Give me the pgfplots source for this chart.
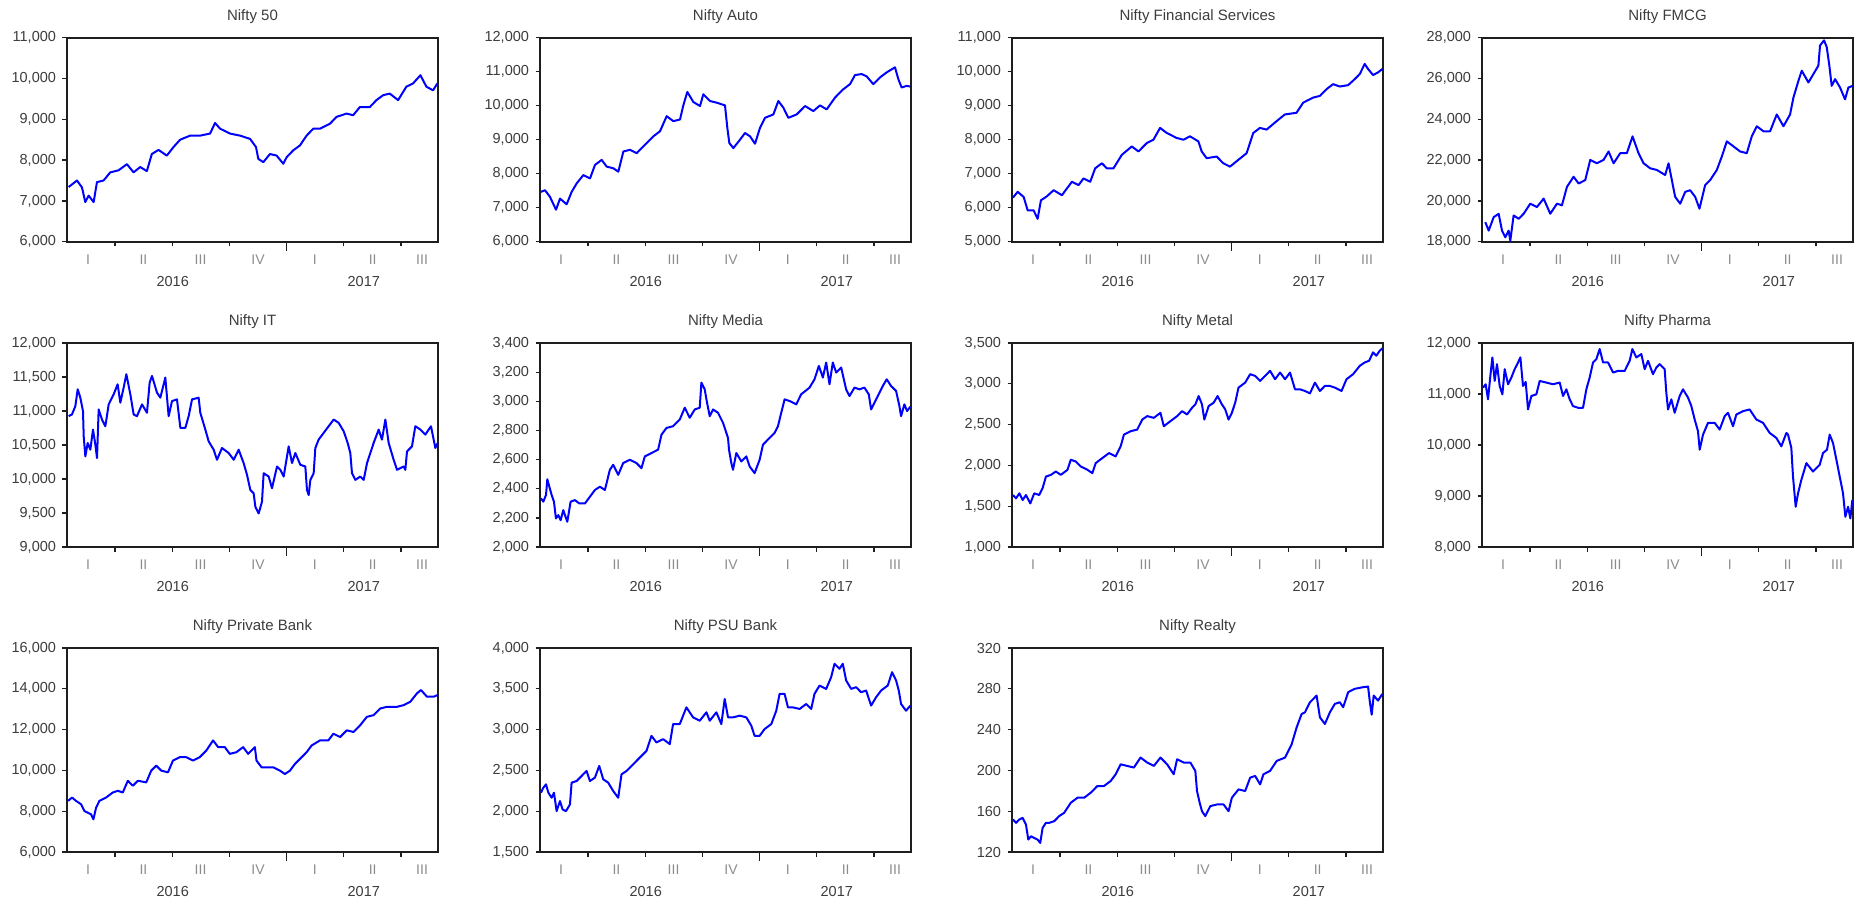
\documentclass[border=0pt]{standalone}
\usepackage{fontspec}
\setmainfont{Liberation Sans}
\usepackage{pgfplots}
\pgfplotsset{compat=1.18}
\definecolor{framecol}{HTML}{1E1E1E}
\definecolor{labcol}{HTML}{3C3C3C}
\definecolor{qcol}{HTML}{8C8C8C}

\newcommand\ticksize{\fontsize{14.5}{16}\selectfont}

\pgfplotsset{
  panel/.style={
    scale only axis, width=371pt, height=204pt,
    anchor=north west,
    xmin=0.16, xmax=6.65,
    xtick={1,2,3,5,6}, xticklabels={},
    extra x ticks={4}, extra x tick labels={},
    extra x tick style={major tick length=9pt},
    major tick length=4.5pt,
    tick align=outside, tick pos=left,
    axis line style={line width=1.7pt, framecol},
    every tick/.style={line width=1.3pt, framecol},
    scaled y ticks=false,
    /pgf/number format/fixed,
    /pgf/number format/1000 sep={,},
    /pgf/number format/assume math mode=true,
    yticklabel style={font=\ticksize, text=labcol, xshift=-3pt},
    title style={at={(0.5,1)}, anchor=center, yshift=15pt,
      font=\fontsize{15}{16}\selectfont, text=labcol},
    clip=false,
    no markers,
    every axis plot/.append style={color=blue, line width=2pt, line join=round},
    after end axis/.code={
      \foreach \p/\q in {0.057/I,0.206/II,0.36/III,0.515/IV,0.668/I,0.824/II,0.957/III}
        \node[font=\fontsize{14}{15}\selectfont, text=qcol] at ([yshift=-18pt]rel axis cs:\p,0) {\q};
      \node[font=\ticksize, text=labcol] at ([yshift=-39.5pt]rel axis cs:0.285,0) {2016};
      \node[font=\ticksize, text=labcol] at ([yshift=-39.5pt]rel axis cs:0.80,0) {2017};
    },
  }
}

\begin{document}
\begin{tikzpicture}
\path[use as bounding box] (0pt,0pt) rectangle (1854pt,-900pt);

% ---------------- row 1 ----------------
\begin{axis}[panel, at={(67pt,-37.7pt)}, title={Nifty 50},
  ymin=6000, ymax=11000, ytick={6000,7000,...,11000}]
\addplot coordinates {
(0.189,7340) (0.335,7500) (0.422,7330) (0.480,6970) (0.538,7130) (0.626,6970) (0.684,7460)
(0.800,7500) (0.917,7700) (1.062,7750) (1.208,7900) (1.324,7700) (1.441,7830) (1.557,7730)
(1.644,8150) (1.761,8250) (1.906,8110) (2.023,8320) (2.139,8500) (2.314,8600) (2.488,8600)
(2.663,8650) (2.750,8910) (2.838,8770) (3.012,8650) (3.187,8600) (3.362,8520) (3.466,8320)
(3.507,8030) (3.594,7950) (3.711,8150) (3.827,8110) (3.944,7910) (4.002,8070) (4.118,8240)
(4.235,8360) (4.351,8600) (4.468,8770) (4.584,8770) (4.759,8890) (4.875,9060) (5.050,9140)
(5.166,9100) (5.283,9300) (5.457,9300) (5.573,9470) (5.690,9590) (5.806,9630) (5.952,9470)
(6.097,9800) (6.214,9880) (6.342,10080) (6.447,9800) (6.563,9710) (6.639,9880)
};
\end{axis}

\begin{axis}[panel, at={(540pt,-37.7pt)}, title={Nifty Auto},
  ymin=6000, ymax=12000, ytick={6000,7000,...,12000}]
\addplot coordinates {
(0.177,7466) (0.247,7515) (0.335,7317) (0.440,6941) (0.510,7268) (0.626,7100) (0.714,7466)
(0.801,7713) (0.918,7960) (1.035,7862) (1.122,8258) (1.239,8406) (1.326,8208) (1.443,8159)
(1.530,8060) (1.618,8654) (1.734,8703) (1.851,8604) (1.968,8802) (2.143,9099) (2.259,9248)
(2.376,9693) (2.492,9545) (2.609,9594) (2.667,10010) (2.737,10406) (2.842,10109) (2.959,9990)
(3.017,10337) (3.134,10139) (3.250,10089) (3.396,10010) (3.437,9347) (3.472,8901) (3.542,8753)
(3.659,9000) (3.746,9198) (3.834,9099) (3.921,8881) (4.008,9347) (4.096,9644) (4.242,9743)
(4.329,10139) (4.417,9941) (4.504,9644) (4.650,9743) (4.796,9990) (4.941,9842) (5.058,10010)
(5.175,9891) (5.320,10238) (5.466,10485) (5.583,10634) (5.670,10901) (5.787,10931) (5.874,10862)
(5.991,10634) (6.108,10832) (6.224,10980) (6.370,11129) (6.428,10782) (6.486,10535) (6.574,10584)
(6.632,10564)
};
\end{axis}

\begin{axis}[panel, at={(1012pt,-37.7pt)}, title={Nifty Financial Services},
  ymin=5000, ymax=11000, ytick={5000,6000,...,11000}]
\addplot coordinates {
(0.177,6297) (0.259,6466) (0.364,6317) (0.434,5921) (0.538,5921) (0.608,5674) (0.666,6218)
(0.771,6337) (0.888,6515) (1.033,6367) (1.120,6565) (1.208,6763) (1.324,6664) (1.411,6862)
(1.528,6763) (1.615,7159) (1.732,7307) (1.819,7159) (1.935,7159) (2.081,7555) (2.256,7802)
(2.372,7654) (2.518,7901) (2.634,8000) (2.750,8347) (2.867,8198) (3.041,8050) (3.158,8000)
(3.274,8099) (3.420,7951) (3.478,7654) (3.565,7456) (3.740,7505) (3.856,7307) (3.973,7208)
(4.118,7406) (4.264,7604) (4.380,8198) (4.497,8347) (4.613,8297) (4.788,8545) (4.933,8743)
(5.137,8792) (5.253,9089) (5.428,9238) (5.544,9287) (5.661,9485) (5.777,9634) (5.894,9564)
(6.039,9604) (6.156,9782) (6.243,9931) (6.330,10228) (6.389,10079) (6.476,9901) (6.563,9980)
(6.639,10079)
};
\end{axis}

\begin{axis}[panel, at={(1482pt,-37.7pt)}, title={Nifty FMCG},
  ymin=18000, ymax=28000, ytick={18000,20000,...,28000}]
\addplot coordinates {
(0.218,18958) (0.277,18545) (0.364,19205) (0.451,19370) (0.510,18545) (0.568,18215) (0.626,18545)
(0.655,18050) (0.713,19288) (0.801,19123) (0.888,19370) (1.005,19865) (1.121,19700) (1.238,20113)
(1.354,19370) (1.471,19865) (1.558,19783) (1.646,20690) (1.762,21185) (1.850,20855) (1.966,21020)
(2.053,22010) (2.170,21845) (2.286,22010) (2.374,22423) (2.461,21845) (2.578,22340) (2.694,22340)
(2.793,23165) (2.898,22340) (2.986,21845) (3.102,21598) (3.219,21516) (3.364,21268) (3.423,21845)
(3.498,20773) (3.539,20196) (3.627,19865) (3.714,20443) (3.801,20526) (3.889,20196) (3.964,19618)
(4.063,20773) (4.151,21020) (4.267,21516) (4.355,22175) (4.442,22918) (4.559,22670) (4.675,22423)
(4.792,22340) (4.879,23165) (4.967,23660) (5.083,23413) (5.199,23413) (5.316,24238) (5.433,23660)
(5.549,24238) (5.607,25063) (5.695,25888) (5.753,26383) (5.870,25805) (5.957,26218) (6.044,26630)
(6.073,27620) (6.143,27868) (6.190,27538) (6.236,26630) (6.277,25640) (6.336,25970) (6.423,25558)
(6.510,24980) (6.569,25558) (6.644,25640)
};
\end{axis}

% ---------------- row 2 ----------------
\begin{axis}[panel, at={(67pt,-343pt)}, title={Nifty IT},
  ymin=9000, ymax=12000, ytick={9000,9500,...,12000}]
\addplot coordinates {
(0.189,10924) (0.247,10949) (0.306,11072) (0.347,11319) (0.393,11196) (0.440,10998) (0.452,10628)
(0.481,10332) (0.522,10530) (0.568,10431) (0.615,10727) (0.656,10505) (0.685,10308) (0.714,11023)
(0.772,10875) (0.831,10776) (0.889,11097) (0.976,11245) (1.046,11393) (1.093,11122) (1.151,11344)
(1.198,11541) (1.268,11245) (1.326,10949) (1.384,10924) (1.472,11097) (1.559,10974) (1.606,11418)
(1.647,11516) (1.734,11270) (1.793,11196) (1.880,11492) (1.938,10924) (1.997,11146) (2.084,11171)
(2.143,10752) (2.230,10752) (2.288,10924) (2.347,11171) (2.463,11196) (2.492,10974) (2.580,10727)
(2.638,10554) (2.726,10431) (2.784,10283) (2.871,10456) (2.988,10382) (3.076,10283) (3.163,10431)
(3.250,10234) (3.309,10061) (3.367,9839) (3.425,9790) (3.455,9592) (3.513,9494) (3.571,9666)
(3.600,10086) (3.688,10036) (3.746,9864) (3.834,10184) (3.892,10135) (3.950,10036) (4.038,10480)
(4.096,10234) (4.154,10382) (4.242,10209) (4.329,10184) (4.358,9839) (4.388,9765) (4.417,9987)
(4.475,10086) (4.504,10456) (4.562,10579) (4.650,10678) (4.737,10776) (4.825,10875) (4.912,10826)
(5.000,10702) (5.070,10530) (5.116,10382) (5.145,10086) (5.204,9987) (5.291,10036) (5.350,9987)
(5.408,10234) (5.466,10382) (5.524,10530) (5.612,10727) (5.670,10579) (5.729,10875) (5.787,10530)
(5.874,10283) (5.933,10135) (5.991,10160) (6.049,10184) (6.078,10135) (6.108,10406) (6.195,10480)
(6.253,10776) (6.341,10727) (6.428,10653) (6.527,10776) (6.574,10579) (6.603,10456) (6.644,10530)
};
\end{axis}

\begin{axis}[panel, at={(540pt,-343pt)}, title={Nifty Media},
  ymin=2000, ymax=3400, ytick={2000,2200,...,3400}]
\addplot coordinates {
(0.177,2334) (0.218,2311) (0.265,2357) (0.288,2465) (0.323,2414) (0.364,2357) (0.404,2311)
(0.439,2196) (0.480,2219) (0.521,2184) (0.567,2253) (0.637,2173) (0.696,2311) (0.771,2322)
(0.847,2299) (0.946,2299) (1.033,2345) (1.120,2391) (1.208,2414) (1.295,2391) (1.382,2530)
(1.441,2564) (1.528,2495) (1.615,2576) (1.732,2599) (1.848,2576) (1.935,2541) (1.994,2622)
(2.110,2645) (2.226,2668) (2.285,2771) (2.372,2817) (2.488,2829) (2.605,2875) (2.692,2956)
(2.779,2887) (2.867,2944) (2.954,2956) (2.983,3128) (3.041,3082) (3.082,2990) (3.129,2898)
(3.187,2944) (3.274,2921) (3.362,2852) (3.449,2748) (3.466,2668) (3.507,2576) (3.536,2530)
(3.594,2645) (3.682,2587) (3.769,2622) (3.827,2553) (3.914,2507) (4.002,2599) (4.060,2702)
(4.147,2737) (4.264,2783) (4.322,2829) (4.380,2921) (4.438,3013) (4.526,3002) (4.642,2979)
(4.729,3048) (4.875,3094) (4.962,3151) (5.038,3243) (5.108,3163) (5.166,3266) (5.224,3117)
(5.282,3266) (5.341,3197) (5.428,3232) (5.515,3082) (5.574,3036) (5.661,3094) (5.748,3082)
(5.835,3094) (5.911,3048) (5.952,2944) (6.068,3036) (6.156,3105) (6.225,3151) (6.301,3105)
(6.389,3071) (6.447,2967) (6.476,2898) (6.534,2979) (6.581,2933) (6.639,2963)
};
\end{axis}

\begin{axis}[panel, at={(1012pt,-343pt)}, title={Nifty Metal},
  ymin=1000, ymax=3500, ytick={1000,1500,...,3500}]
\addplot coordinates {
(0.177,1637) (0.230,1596) (0.288,1658) (0.346,1576) (0.404,1637) (0.480,1534) (0.549,1658)
(0.636,1637) (0.695,1720) (0.753,1863) (0.840,1884) (0.927,1925) (1.014,1884) (1.130,1946)
(1.188,2069) (1.276,2048) (1.363,1987) (1.479,1946) (1.566,1905) (1.624,2028) (1.740,2090)
(1.857,2151) (1.973,2110) (2.060,2233) (2.118,2377) (2.234,2419) (2.350,2439) (2.438,2562)
(2.525,2604) (2.641,2583) (2.757,2645) (2.815,2480) (2.931,2542) (3.048,2604) (3.135,2665)
(3.222,2624) (3.309,2706) (3.367,2748) (3.425,2850) (3.483,2748) (3.524,2562) (3.600,2727)
(3.687,2768) (3.756,2850) (3.832,2748) (3.890,2686) (3.948,2562) (4.006,2645) (4.064,2768)
(4.122,2953) (4.239,3015) (4.326,3118) (4.413,3097) (4.500,3035) (4.587,3097) (4.674,3159)
(4.762,3056) (4.849,3138) (4.936,3056) (5.023,3138) (5.110,2933) (5.197,2933) (5.284,2912)
(5.372,2883) (5.459,3015) (5.546,2912) (5.633,2974) (5.720,2974) (5.807,2953) (5.924,2912)
(6.011,3056) (6.127,3118) (6.243,3220) (6.330,3262) (6.406,3282) (6.475,3385) (6.533,3344)
(6.592,3405) (6.638,3434)
};
\end{axis}

\begin{axis}[panel, at={(1482pt,-343pt)}, title={Nifty Pharma},
  ymin=8000, ymax=12000, ytick={8000,9000,...,12000}]
\addplot coordinates {
(0.177,11125) (0.224,11191) (0.265,10895) (0.306,11355) (0.341,11717) (0.382,11257) (0.422,11586)
(0.469,11158) (0.516,10993) (0.557,11487) (0.615,11191) (0.673,11322) (0.731,11487) (0.790,11618)
(0.831,11717) (0.877,11158) (0.924,11237) (0.965,10697) (1.023,10961) (1.110,10993) (1.169,11257)
(1.285,11224) (1.402,11191) (1.519,11224) (1.577,10961) (1.635,11092) (1.694,10895) (1.752,10763)
(1.839,10730) (1.927,10730) (1.985,11092) (2.043,11322) (2.102,11618) (2.160,11684) (2.218,11882)
(2.277,11618) (2.364,11618) (2.452,11421) (2.539,11454) (2.656,11454) (2.743,11651) (2.790,11882)
(2.860,11717) (2.947,11783) (3.005,11487) (3.064,11651) (3.151,11388) (3.210,11520) (3.268,11586)
(3.355,11487) (3.384,11026) (3.414,10697) (3.472,10895) (3.530,10632) (3.618,10961) (3.676,11092)
(3.764,10928) (3.822,10763) (3.880,10500) (3.938,10270) (3.968,9908) (4.026,10204) (4.113,10434)
(4.230,10434) (4.317,10303) (4.405,10566) (4.463,10632) (4.551,10368) (4.609,10599) (4.726,10664)
(4.842,10697) (4.959,10500) (5.076,10434) (5.192,10237) (5.309,10138) (5.396,9974) (5.484,10237)
(5.513,10204) (5.571,9941) (5.600,9382) (5.647,8789) (5.688,9053) (5.746,9316) (5.834,9645)
(5.950,9480) (6.067,9612) (6.125,9842) (6.195,9908) (6.242,10204) (6.300,10039) (6.359,9711)
(6.417,9382) (6.475,9053) (6.516,8592) (6.563,8789) (6.603,8559) (6.638,8921)
};
\end{axis}

% ---------------- row 3 ----------------
\begin{axis}[panel, at={(67pt,-648pt)}, title={Nifty Private Bank},
  ymin=6000, ymax=16000, ytick={6000,8000,...,16000}]
\addplot coordinates {
(0.178,8506) (0.248,8671) (0.318,8506) (0.406,8341) (0.464,8012) (0.523,7930) (0.581,7848)
(0.622,7601) (0.669,8177) (0.727,8506) (0.844,8671) (0.961,8918) (1.049,9000) (1.136,8918)
(1.224,9494) (1.312,9247) (1.400,9494) (1.546,9412) (1.633,9988) (1.721,10235) (1.809,9988)
(1.926,9906) (2.014,10483) (2.130,10647) (2.247,10647) (2.364,10483) (2.481,10647) (2.598,10977)
(2.715,11471) (2.803,11142) (2.920,11142) (3.008,10812) (3.124,10894) (3.241,11142) (3.329,10812)
(3.446,11142) (3.475,10483) (3.563,10153) (3.651,10153) (3.768,10153) (3.885,9988) (3.972,9824)
(4.060,9988) (4.148,10318) (4.265,10647) (4.352,10894) (4.440,11224) (4.586,11471) (4.732,11471)
(4.820,11800) (4.937,11636) (5.054,11965) (5.171,11883) (5.288,12212) (5.405,12624) (5.522,12706)
(5.639,13036) (5.756,13118) (5.931,13118) (6.048,13200) (6.165,13365) (6.282,13777) (6.352,13941)
(6.457,13612) (6.574,13612) (6.644,13694)
};
\end{axis}

\begin{axis}[panel, at={(540pt,-648pt)}, title={Nifty PSU Bank},
  ymin=1500, ymax=4000, ytick={1500,2000,...,4000}]
\addplot coordinates {
(0.177,2227) (0.218,2288) (0.265,2329) (0.306,2227) (0.364,2165) (0.404,2227) (0.451,2001)
(0.509,2124) (0.556,2021) (0.614,2001) (0.684,2083) (0.713,2350) (0.800,2370) (0.888,2432)
(0.975,2493) (1.033,2370) (1.120,2411) (1.196,2555) (1.266,2391) (1.353,2350) (1.441,2247)
(1.528,2165) (1.586,2452) (1.673,2493) (1.790,2575) (1.906,2658) (2.023,2740) (2.110,2924)
(2.197,2842) (2.314,2883) (2.430,2822) (2.488,3068) (2.605,3068) (2.721,3273) (2.838,3150)
(2.954,3109) (3.071,3212) (3.129,3109) (3.245,3212) (3.332,3068) (3.391,3376) (3.449,3150)
(3.536,3150) (3.653,3171) (3.769,3150) (3.856,3048) (3.914,2924) (4.002,2924) (4.089,3007)
(4.206,3068) (4.293,3232) (4.351,3438) (4.438,3438) (4.497,3273) (4.584,3273) (4.700,3253)
(4.817,3314) (4.904,3253) (4.962,3438) (5.050,3540) (5.166,3499) (5.253,3643) (5.312,3807)
(5.399,3745) (5.457,3807) (5.515,3602) (5.603,3499) (5.690,3520) (5.777,3458) (5.865,3479)
(5.952,3294) (6.039,3397) (6.127,3479) (6.243,3540) (6.319,3704) (6.389,3602) (6.436,3479)
(6.476,3314) (6.563,3232) (6.639,3294)
};
\end{axis}

\begin{axis}[panel, at={(1012pt,-648pt)}, title={Nifty Realty},
  ymin=120, ymax=320, ytick={120,160,...,320}]
\addplot coordinates {
(0.177,151.9) (0.230,148.6) (0.288,151.9) (0.346,153.5) (0.404,146.9) (0.445,132.2) (0.491,135.4)
(0.549,133.8) (0.607,132.2) (0.654,128.9) (0.695,143.6) (0.753,148.6) (0.811,148.6) (0.898,150.2)
(0.985,155.2) (1.072,158.4) (1.188,168.3) (1.305,173.2) (1.421,173.2) (1.537,178.1) (1.653,184.7)
(1.769,184.7) (1.886,189.6) (1.973,196.2) (2.060,206.0) (2.176,204.4) (2.292,202.8) (2.408,212.6)
(2.525,207.7) (2.641,204.4) (2.757,212.6) (2.873,206.0) (2.989,196.2) (3.048,211.0) (3.164,207.7)
(3.280,207.7) (3.367,199.5) (3.396,179.8) (3.443,168.3) (3.483,160.0) (3.541,155.2) (3.629,165.0)
(3.745,166.6) (3.861,166.6) (3.948,160.0) (4.006,173.2) (4.122,181.4) (4.239,179.8) (4.326,192.9)
(4.413,194.6) (4.500,186.3) (4.558,196.2) (4.674,199.5) (4.791,209.3) (4.936,212.6) (5.052,225.7)
(5.139,242.2) (5.226,255.3) (5.284,256.9) (5.372,266.8) (5.488,273.4) (5.546,252.0) (5.633,245.5)
(5.720,256.9) (5.807,265.2) (5.894,266.8) (5.953,261.9) (6.040,276.7) (6.156,280.0) (6.301,281.6)
(6.388,282.2) (6.417,268.4) (6.452,254.6) (6.487,273.4) (6.563,268.4) (6.638,275.0)
};
\end{axis}
\end{tikzpicture}
\end{document}
